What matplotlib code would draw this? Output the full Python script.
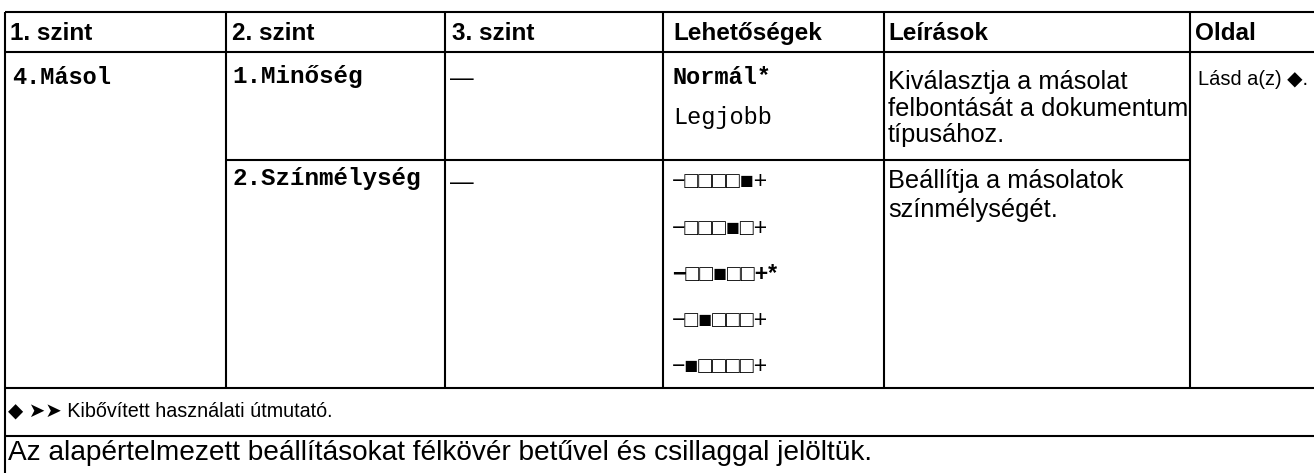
import matplotlib
matplotlib.use("Agg")
import matplotlib.pyplot as plt

# ---- data ----
headers = ["1. szint", "2. szint", "3. szint", "Lehetőségek", "Leírások", "Oldal"]
level1 = "4.Másol"
level2 = ["1.Minőség", "2.Színmélység"]
level3 = ["—", "—"]
options_quality = ["Normál*", "Legjobb"]
options_quality_bold = [True, False]
options_depth = ["−□□□□■+", "−□□□■□+", "−□□■□□+*", "−□■□□□+", "−■□□□□+"]
options_depth_bold = [False, False, True, False, False]
desc_quality = ["Kiválasztja a másolat", "felbontását a dokumentum", "típusához."]
desc_depth = ["Beállítja a másolatok", "színmélységét."]
page_ref = "Lásd a(z) ◆."
footnotes = ["◆ ➤➤ Kibővített használati útmutató.",
             "Az alapértelmezett beállításokat félkövér betűvel és csillaggal jelöltük."]

# ---- layout (pixels) ----
W, H = 1314, 473
fig = plt.figure(figsize=(W / 100, H / 100), dpi=100)
ax = fig.add_axes([0, 0, 1, 1])
ax.set_xlim(0, W)
ax.set_ylim(H, 0)
ax.axis("off")
renderer = fig.canvas.get_renderer()

lw = 1.5
col_x = [5, 226, 445, 663, 884, 1190]
y_top, y_head, y_row1, y_row2, y_foot = 12, 52.5, 160, 388, 436

# vertical lines
ax.plot([col_x[0], col_x[0]], [y_top, H + 5], color="black", lw=lw, solid_capstyle="butt")
for x in col_x[1:]:
    ax.plot([x, x], [y_top, y_row2], color="black", lw=lw, solid_capstyle="butt")
# horizontal lines
for y in [y_top, y_head, y_row2, y_foot]:
    ax.plot([col_x[0], W + 5], [y, y], color="black", lw=lw, solid_capstyle="butt")
ax.plot([col_x[1], col_x[5]], [y_row1, y_row1], color="black", lw=lw, solid_capstyle="butt")

SANS = ["Liberation Sans", "DejaVu Sans"]
MONO = ["Liberation Mono", "DejaVu Sans Mono"]


def fit_text(x, y, s, target_w, **kw):
    t = ax.text(x, y, s, fontsize=10, va="baseline", ha="left", **kw)
    w = t.get_window_extent(renderer=renderer).width
    t.set_fontsize(10 * target_w / w)
    return t


head_x = [10, 232, 452, 673, 888, 1195]
for hx, h in zip(head_x, headers):
    ax.text(hx, 40, h, family=SANS, fontsize=17.5, fontweight="bold", va="baseline", ha="left")

# level 1 / level 2
ax.text(12, 83.5, level1, family=MONO, fontsize=17, fontweight="bold", va="baseline")
for y, t in zip([83.5, 185], level2):
    ax.text(232, y, t, family=MONO, fontsize=17.5, fontweight="bold", va="baseline")
for y, t in zip([84.5, 188.5], level3):
    ax.text(450, y, t, family=SANS, fontsize=17, va="baseline")

# options
for y, t, b in zip([84, 124], options_quality, options_quality_bold):
    ax.text(673, y, t, family=MONO, fontsize=17, fontweight="bold" if b else "normal", va="baseline")
for y, t, b in zip([188, 235, 281, 327, 373], options_depth, options_depth_bold):
    ax.text(672, y, t, family=SANS, fontsize=16.5, fontweight="bold" if b else "normal", va="baseline")

# descriptions
for y, t in zip([89, 116, 142], desc_quality):
    ax.text(888, y, t, family=SANS, fontsize=18.3, va="baseline")
for y, t in zip([188, 217], desc_depth):
    ax.text(888, y, t, family=SANS, fontsize=18.3, va="baseline")

fit_text(1198, 85, page_ref, 110, family=SANS)

fit_text(8, 417, footnotes[0], 325, family=SANS)
fit_text(8, 460, footnotes[1], 867, family=SANS)

fig.savefig("out.png", dpi=100)
